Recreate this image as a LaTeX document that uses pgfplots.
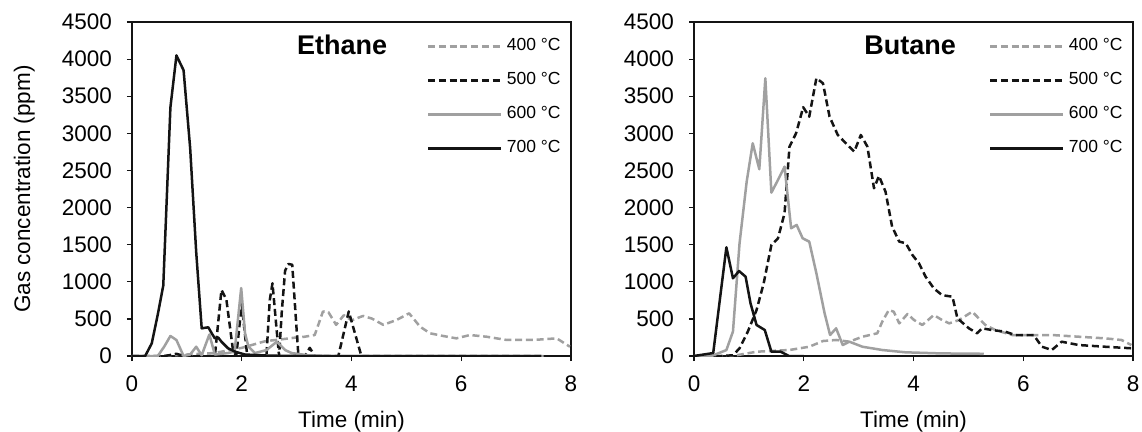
\documentclass[border=0pt]{standalone}
\usepackage{pgfplots}
\pgfplotsset{compat=1.18}
\usepackage{fontspec}
\setmainfont{Liberation Sans}
\definecolor{lgray}{RGB}{160,160,160}
\definecolor{dk}{RGB}{20,20,20}
\pgfplotsset{
  myaxis/.style={
    scale only axis, width=175.6pt, height=133.6pt,
    xmin=0, xmax=8, ymin=0, ymax=4500,
    xtick={0,2,...,8}, ytick={0,500,...,4500},
    tick pos=left, tick align=outside, major tick length=2pt,
    axis line style={line width=0.5pt, dk},
    tick style={line width=0.5pt, dk},
    font=\fontsize{9}{11}\selectfont,
    /pgf/number format/assume math mode=true,
    /pgf/number format/1000 sep={},
    scaled y ticks=false,
    yticklabel style={xshift=-2.5pt},
    xticklabel style={yshift=-2.5pt},
    xlabel={Time (min)},
    xlabel style={yshift=-1pt},
    legend style={draw=none, fill=none, at={(rel axis cs:0.665,0.975)}, anchor=north west,
      font=\fontsize{7}{8}\selectfont, row sep=3.2pt, inner sep=1pt},
    legend cell align=left,
    legend image code/.code={\draw[#1] (0pt,0pt) -- (29pt,0pt);},
    every axis plot/.append style={line width=1pt, line join=round},
  },
  s400/.style={lgray, dash pattern=on 2.8pt off 1.5pt},
  s500/.style={dk, dash pattern=on 2.8pt off 1.5pt},
  s600/.style={lgray},
  s700/.style={dk},
}
\begin{document}
\begin{tikzpicture}
\useasboundingbox (-52.8pt,-30pt) rectangle (404pt,142.4pt);
\begin{axis}[myaxis, ylabel={Gas concentration (ppm)}, ylabel style={yshift=4pt}]
\addplot[s400] coordinates {(0,0) (0.5,0) (1.0,20) (1.5,40) (2.0,110) (2.43,200) (2.67,220) (3.0,250) (3.15,260) (3.33,283) (3.48,600) (3.58,590) (3.72,420) (3.86,550) (4.0,480) (4.21,540) (4.37,505) (4.58,420) (4.82,485) (5.05,575) (5.25,395) (5.43,306) (5.67,270) (5.91,238) (6.16,283) (6.46,260) (6.83,216) (7.31,216) (7.74,238) (7.98,125)};
\addlegendentry{400 °C}
\addplot[s500] coordinates {(0,0) (0.6,0) (0.81,30) (0.94,0) (1.51,0) (1.63,890) (1.72,760) (1.84,80) (1.90,0) (2.0,700) (2.10,0) (2.45,0) (2.51,750) (2.56,980) (2.63,400) (2.68,0) (2.73,600) (2.79,1150) (2.85,1240) (2.92,1230) (3.03,30) (3.15,0) (3.24,110) (3.33,0) (3.76,0) (3.95,600) (4.18,0) (7.5,0)};
\addlegendentry{500 °C}
\addplot[s600] coordinates {(0,0) (0.47,0) (0.59,130) (0.70,270) (0.81,215) (0.94,0) (1.06,20) (1.17,125) (1.27,10) (1.41,290) (1.51,20) (1.63,30) (1.75,40) (1.87,60) (1.99,916) (2.06,306) (2.12,130) (2.24,40) (2.45,80) (2.64,193) (2.79,80) (2.91,40) (3.2,10) (3.6,0) (7.5,0)};
\addlegendentry{600 °C}
\addplot[s700] coordinates {(0,0) (0.24,0) (0.36,170) (0.47,560) (0.57,950) (0.70,3350) (0.81,4050) (0.94,3850) (1.06,2800) (1.17,1400) (1.27,373) (1.39,387) (1.45,310) (1.51,238) (1.57,250) (1.63,193) (1.75,104) (1.88,58) (2.06,20) (2.5,5) (3.0,0) (7.46,0)};
\addlegendentry{700 °C}
\node[font=\bfseries\fontsize{10.8}{13}\selectfont] at (axis cs:3.83,4190) {Ethane};
\end{axis}
\begin{axis}[myaxis, xshift=224.8pt]
\addplot[s400] coordinates {(0,0) (0.7,0) (1.14,58) (1.74,81) (2.10,125) (2.35,202) (2.59,216) (2.83,193) (3.07,260) (3.34,306) (3.43,462) (3.55,620) (3.64,597) (3.74,440) (3.89,566) (4.01,485) (4.16,418) (4.37,552) (4.52,485) (4.65,440) (4.83,485) (5.07,597) (5.31,418) (5.49,350) (5.80,283) (6.16,283) (6.52,283) (7.01,260) (7.49,238) (7.79,216) (7.97,148)};
\addlegendentry{400 °C}
\addplot[s500] coordinates {(0,0) (0.5,0) (0.71,10) (0.83,104) (0.98,328) (1.14,620) (1.27,980) (1.41,1496) (1.53,1586) (1.65,1923) (1.74,2821) (1.86,3001) (1.99,3352) (2.10,3225) (2.23,3743) (2.35,3675) (2.47,3225) (2.62,2978) (2.74,2888) (2.92,2753) (3.04,2978) (3.16,2821) (3.28,2260) (3.37,2426) (3.49,2214) (3.61,1743) (3.74,1541) (3.86,1519) (3.98,1361) (4.10,1249) (4.22,1069) (4.37,912) (4.52,820) (4.71,799) (4.80,508) (5.01,373) (5.16,306) (5.25,373) (5.43,350) (5.67,328) (5.85,283) (6.10,283) (6.19,283) (6.34,125) (6.52,81) (6.70,193) (7.01,148) (7.49,125) (7.97,104)};
\addlegendentry{500 °C}
\addplot[s600] coordinates {(0,0) (0.32,0) (0.59,80) (0.71,330) (0.83,1519) (0.96,2350) (1.07,2866) (1.19,2516) (1.30,3743) (1.41,2201) (1.53,2372) (1.65,2551) (1.77,1721) (1.87,1766) (1.98,1586) (2.10,1541) (2.23,1115) (2.38,575) (2.48,283) (2.59,373) (2.71,148) (2.83,193) (3.07,125) (3.43,81) (3.85,50) (4.5,35) (5.28,30)};
\addlegendentry{600 °C}
\addplot[s700] coordinates {(0,0) (0.35,40) (0.59,1465) (0.71,1047) (0.82,1145) (0.94,1069) (1.03,710) (1.14,418) (1.29,350) (1.41,58) (1.58,58) (1.73,0) (2.0,0)};
\addlegendentry{700 °C}
\node[font=\bfseries\fontsize{10.8}{13}\selectfont] at (axis cs:3.94,4190) {Butane};
\end{axis}
\end{tikzpicture}
\end{document}
